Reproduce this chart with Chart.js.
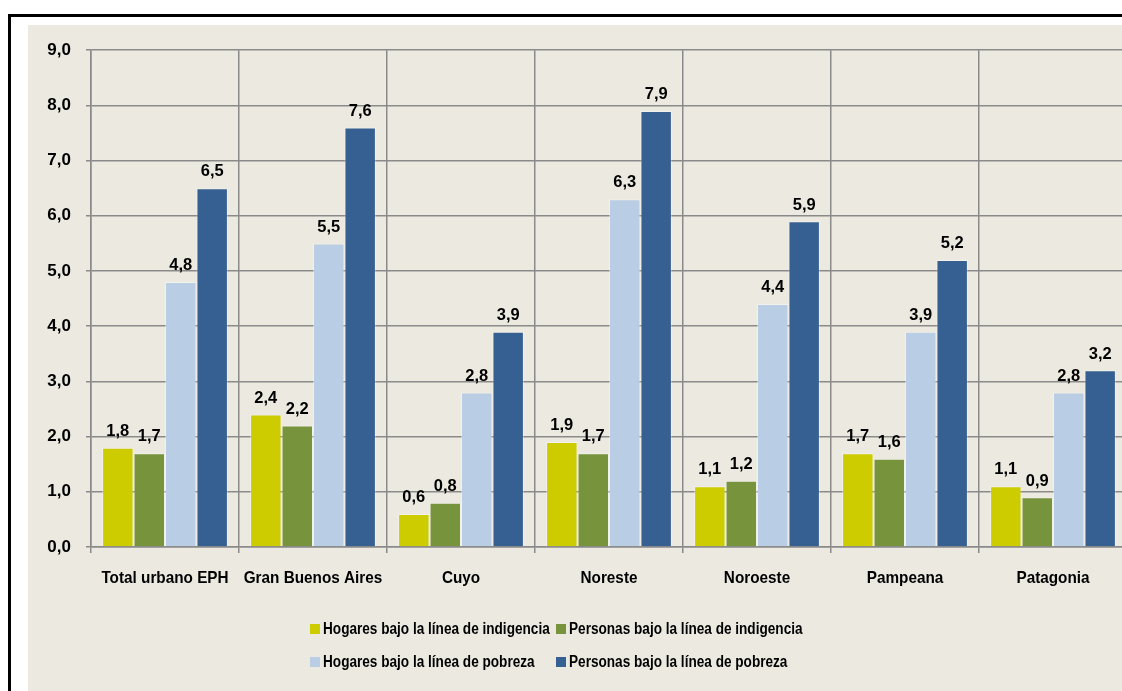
<!DOCTYPE html>
<html lang="es">
<head>
<meta charset="utf-8">
<title>Hogares y personas bajo la línea de indigencia y pobreza</title>
<script src="https://cdn.jsdelivr.net/npm/chart.js@4/dist/chart.umd.min.js"></script>
<style>
  html, body { margin: 0; padding: 0; background: #fff; overflow: hidden; width: 1122px; height: 691px; }
  #frame { position: absolute; left: 8px; top: 14px; right: -20px; bottom: -20px;
           border-left: 3px solid #000; border-top: 3px solid #000; }
  #panel { position: absolute; left: 28px; top: 25px; width: 1110px; height: 666px; background: #ECEAE0; }
  #chart { display: block; }
</style>
</head>
<body>
<div id="frame"></div>
<div id="panel"><canvas id="chart" width="1110" height="666"></canvas></div>
<script>
const regiones = ["Total urbano EPH", "Gran Buenos Aires", "Cuyo", "Noreste", "Noroeste", "Pampeana", "Patagonia"];
const hogaresIndigencia = [1.8, 2.4, 0.6, 1.9, 1.1, 1.7, 1.1];
const personasIndigencia = [1.7, 2.2, 0.8, 1.7, 1.2, 1.6, 0.9];
const hogaresPobreza = [4.8, 5.5, 2.8, 6.3, 4.4, 3.9, 2.8];
const personasPobreza = [6.5, 7.6, 3.9, 7.9, 5.9, 5.2, 3.2];
const yTicks = [0, 1, 2, 3, 4, 5, 6, 7, 8, 9];

const series = [
  { label: "Hogares bajo la línea de indigencia", data: hogaresIndigencia, color: "#CCCC00" },
  { label: "Personas bajo la línea de indigencia", data: personasIndigencia, color: "#77933C" },
  { label: "Hogares bajo la línea de pobreza", data: hogaresPobreza, color: "#B9CDE5" },
  { label: "Personas bajo la línea de pobreza", data: personasPobreza, color: "#376092" }
];

const FONT = "'Liberation Sans', Arial, sans-serif";
const fmt = v => v.toFixed(1).replace(".", ",");

// texto angosto: se comprime en horizontal como la fuente narrow original
function narrowText(ctx, text, x, y, sx) {
  ctx.save();
  ctx.translate(x, y);
  ctx.scale(sx, 1);
  ctx.fillText(text, 0, 0);
  ctx.restore();
}

// etiquetas de valor encima de cada barra
const valueLabels = {
  id: "valueLabels",
  afterDatasetsDraw(chart) {
    const ctx = chart.ctx;
    ctx.save();
    ctx.font = "bold 17px " + FONT;
    ctx.fillStyle = "#000";
    ctx.textAlign = "center";
    ctx.textBaseline = "bottom";
    chart.data.datasets.forEach((ds, i) => {
      chart.getDatasetMeta(i).data.forEach((bar, j) => {
        narrowText(ctx, fmt(ds.data[j]), bar.x, bar.y - 8, 0.97);
      });
    });
    ctx.restore();
  }
};

// nombres de las regiones bajo el eje x
const regionLabels = {
  id: "regionLabels",
  afterDraw(chart) {
    const ctx = chart.ctx;
    const xs = chart.scales.x;
    ctx.save();
    ctx.font = "bold 17px " + FONT;
    ctx.fillStyle = "#000";
    ctx.textAlign = "center";
    ctx.textBaseline = "middle";
    chart.data.labels.forEach((lab, i) => {
      narrowText(ctx, lab, xs.getPixelForTick(i), xs.top + 31, 0.9);
    });
    ctx.restore();
  }
};

// leyenda en dos filas con columnas alineadas
const gridLegend = {
  id: "gridLegend",
  afterDraw(chart) {
    const ctx = chart.ctx;
    const cols = [282, 528];
    const rows = [604, 637];
    ctx.save();
    ctx.font = "bold 16px " + FONT;
    ctx.textBaseline = "middle";
    chart.data.datasets.forEach((ds, i) => {
      const x = cols[i % 2];
      const y = rows[Math.floor(i / 2)];
      ctx.fillStyle = ds.backgroundColor;
      ctx.fillRect(x, y - 5, 10, 10);
      ctx.fillStyle = "#000";
      narrowText(ctx, ds.label, x + 13, y + 1, 0.85);
    });
    ctx.restore();
  }
};

new Chart(document.getElementById("chart"), {
  type: "bar",
  data: {
    labels: regiones,
    datasets: series.map(s => ({
      label: s.label,
      data: s.data,
      backgroundColor: s.color,
      borderColor: "rgba(255,255,255,0.35)",
      borderWidth: 1,
      categoryPercentage: 0.85,
      barPercentage: 1.0
    }))
  },
  options: {
    responsive: false,
    animation: false,
    layout: { padding: { top: 22, right: 11, bottom: 94, left: 0 } },
    plugins: {
      legend: { display: false },
      tooltip: { enabled: false }
    },
    scales: {
      x: {
        grid: { offset: true, color: "#8A8A8A", lineWidth: 1.5, tickLength: 6 },
        border: { color: "#8A8A8A", width: 1.5 },
        ticks: { display: false },
        afterFit(scale) { scale.height = 50; }
      },
      y: {
        min: 0,
        max: 9,
        afterBuildTicks(scale) { scale.ticks = yTicks.map(v => ({ value: v })); },
        grid: { color: "#8A8A8A", lineWidth: 1.5, tickLength: 5 },
        border: { color: "#8A8A8A", width: 1.5 },
        ticks: { color: "#000", font: { family: FONT, size: 17, weight: "bold" }, padding: 15, callback: v => fmt(v) },
        afterFit(scale) { scale.width = 63; }
      }
    }
  },
  plugins: [valueLabels, regionLabels, gridLegend]
});
</script>
</body>
</html>
